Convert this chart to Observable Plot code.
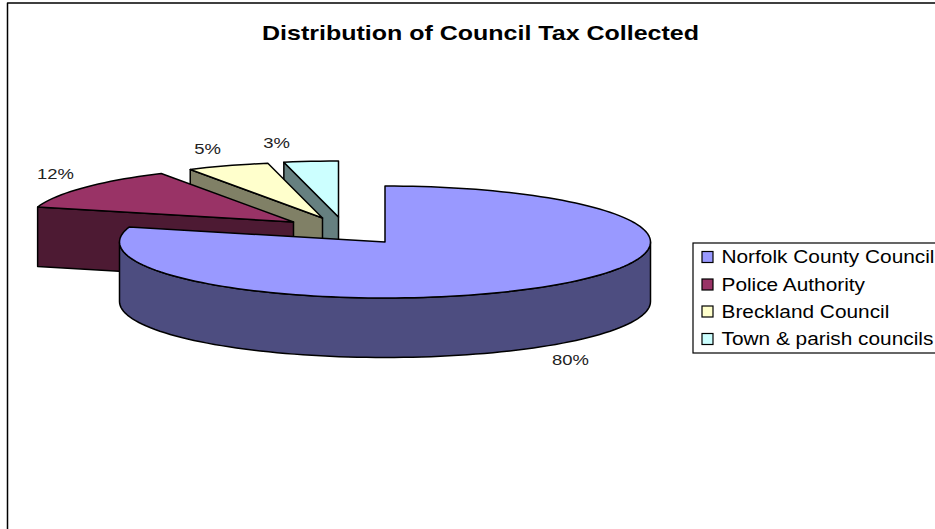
<!DOCTYPE html>
<html>
<head>
<meta charset="utf-8">
<style>
html,body{margin:0;padding:0;background:#fff;overflow:hidden}
svg{display:block}
</style>
<script src="https://cdn.jsdelivr.net/npm/d3@7"></script>
<script src="https://cdn.jsdelivr.net/npm/@observablehq/plot@0.6"></script>
</head>
<body>
<div id="chart"></div>
<script>
const chartTitle = "Distribution of Council Tax Collected";
const categories = ["Norfolk County Council", "Police Authority", "Breckland Council", "Town & parish councils"];
const shares = [79.3, 12.4, 5, 3.3];
const percentLabels = ["80%", "12%", "5%", "3%"];

const topColors = ["#9999FF", "#993366", "#FFFFCC", "#CCFFFF"];
const wallColors = ["#4D4D80", "#4D1A33", "#808066", "#668080"];

// pie geometry
const cx = 384.5, cy = 241.5, rx = 265.5, ry = 56, depth = 59.5;
const explodeX = [0, -91.5, -62.5, -46.5];
const explodeY = [0, -20, -24, -25];
const labelX = [570, 55, 207, 276];
const labelY = [360, 174, 149, 143];

const total = d3.sum(shares);
const ends = d3.cumsum(shares).map(v => v / total * 360);
const starts = ends.map((e, i) => i === 0 ? 0 : ends[i - 1]);
const rim = (deg, i, drop = 0) => {
  const a = deg * Math.PI / 180;
  return {x: cx + explodeX[i] + rx * Math.sin(a), y: cy + explodeY[i] + drop - ry * Math.cos(a)};
};
const arc = (a0, a1, i, drop = 0) => {
  const n = Math.max(2, Math.ceil(Math.abs(a1 - a0) / 2));
  return d3.range(n + 1).map(k => rim(a0 + (a1 - a0) * k / n, i, drop));
};
const apex = (i, drop = 0) => ({x: cx + explodeX[i], y: cy + explodeY[i] + drop});
const closed = pts => [...pts, pts[0]];

const topFace = i => closed([apex(i), ...arc(starts[i], ends[i], i)]);
const sideWall = i => closed([rim(starts[i], i), apex(i), apex(i, depth), rim(starts[i], i, depth)]);
const frontWall = i => closed([...arc(90, 270, i), ...arc(270, 90, i, depth)]);

const poly = (pts, fill) => Plot.line(pts, {x: "x", y: "y", fill, stroke: "#000", strokeWidth: 1.5, strokeLinejoin: "round", curve: "linear"});

// back-to-front: exploded slices, then the large slice on top
const pieMarks = [];
[3, 2, 1].forEach(i => {
  pieMarks.push(poly(sideWall(i), wallColors[i]));
  pieMarks.push(poly(topFace(i), topColors[i]));
});
pieMarks.push(poly(frontWall(0), wallColors[0]));
pieMarks.push(poly(topFace(0), topColors[0]));

// legend layout
const legendRows = [257, 284.5, 311.5, 339];
const legend = categories.map((name, i) => ({name, color: topColors[i], y: legendRows[i]}));

const font = "Liberation Sans, Arial, sans-serif";
const textStretch = 1.19;

const plot = Plot.plot({
  width: 935, height: 529,
  margin: 0,
  style: {background: "#fff", fontFamily: font},
  x: {domain: [0, 935], range: [0, 935], axis: null},
  y: {domain: [0, 529], range: [0, 529], axis: null},
  marks: [
    Plot.line([{x: 7, y: 529}, {x: 7, y: 2.5}, {x: 935, y: 2.5}], {x: "x", y: "y", stroke: "#000", strokeWidth: 1.5}),
    Plot.text([chartTitle], {x: 480, y: 33, text: d => d, fontSize: 21, fontWeight: "bold", fill: "#000", textAnchor: "middle"}),
    ...pieMarks,
    Plot.text(percentLabels.map((t, i) => ({t, x: labelX[i], y: labelY[i]})), {x: "x", y: "y", text: "t", fontSize: 15.5, fill: "#222", textAnchor: "middle"}),
    Plot.rect([{}], {x1: () => 693, x2: () => 940, y1: () => 243, y2: () => 353, fill: "#fff", stroke: "#000", strokeWidth: 1.2}),
    Plot.rect(legend, {x1: () => 702, x2: () => 713, y1: d => d.y - 5.5, y2: d => d.y + 5.5, fill: "color", stroke: "#000", strokeWidth: 1.2}),
    Plot.text(legend, {x: 721, y: "y", text: "name", fontSize: 17.5, fill: "#000", textAnchor: "start"})
  ]
});
document.getElementById("chart").appendChild(plot);
// the original's type is wider than its height: stretch glyphs horizontally
plot.querySelectorAll("text").forEach(t => {
  t.setAttribute("textLength", (t.getComputedTextLength() * textStretch).toFixed(1));
  t.setAttribute("lengthAdjust", "spacingAndGlyphs");
});
</script>
</body>
</html>
